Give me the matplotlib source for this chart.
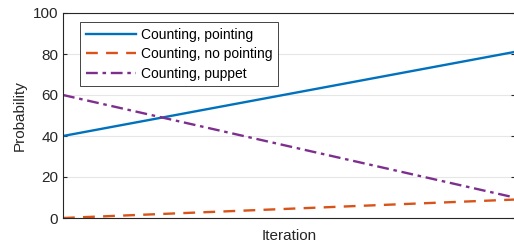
import matplotlib
matplotlib.use("Agg")
import matplotlib.pyplot as plt

plt.rcParams['font.family'] = ['Liberation Sans', 'DejaVu Sans']

iterations = [0, 1]
pointing = [40, 81]
no_pointing = [0, 9]
puppet = [60, 10]
labels = ["Counting, pointing", "Counting, no pointing", "Counting, puppet"]
yticks = [0, 20, 40, 60, 80, 100]

fig = plt.figure(figsize=(5.14, 2.49), dpi=100)
ax = fig.add_axes([63/514, 1-218/249, 1-63/514+0.001, (218-13)/249])

ax.plot(iterations, pointing, color='#0072BD', lw=1.7, ls='-', label=labels[0])
ax.plot(iterations, no_pointing, color='#D95319', lw=1.7, ls=(0, (5, 3.5)), label=labels[1])
ax.plot(iterations, puppet, color='#7E2F8E', lw=1.7, ls=(0, (5, 2, 1.5, 2)), label=labels[2])

ax.set_xlim(0, 1)
ax.set_ylim(0, 100)
ax.set_yticks(yticks)
ax.set_xticks([])
ax.grid(axis='y', color='#e6e6e6', lw=0.8)
ax.set_axisbelow(True)
ax.tick_params(axis='y', direction='in', length=3, labelsize=11, colors='#262626', right=True)
for s in ax.spines.values():
    s.set_color('#262626')
    s.set_linewidth(0.8)
ax.set_ylabel('Probability', fontsize=11, color='#262626')
ax.set_xlabel('Iteration', fontsize=11, color='#262626', labelpad=8)

leg = ax.legend(loc='upper left', bbox_to_anchor=((80-63)/451, 1-(22-13)/205), fontsize=10,
                frameon=True, fancybox=False, edgecolor='#262626', framealpha=1,
                handlelength=3.6, borderaxespad=0, borderpad=0.4, labelspacing=0.4,
                handletextpad=0.4)
leg.get_frame().set_linewidth(0.6)

fig.savefig('out.png', dpi=100)
